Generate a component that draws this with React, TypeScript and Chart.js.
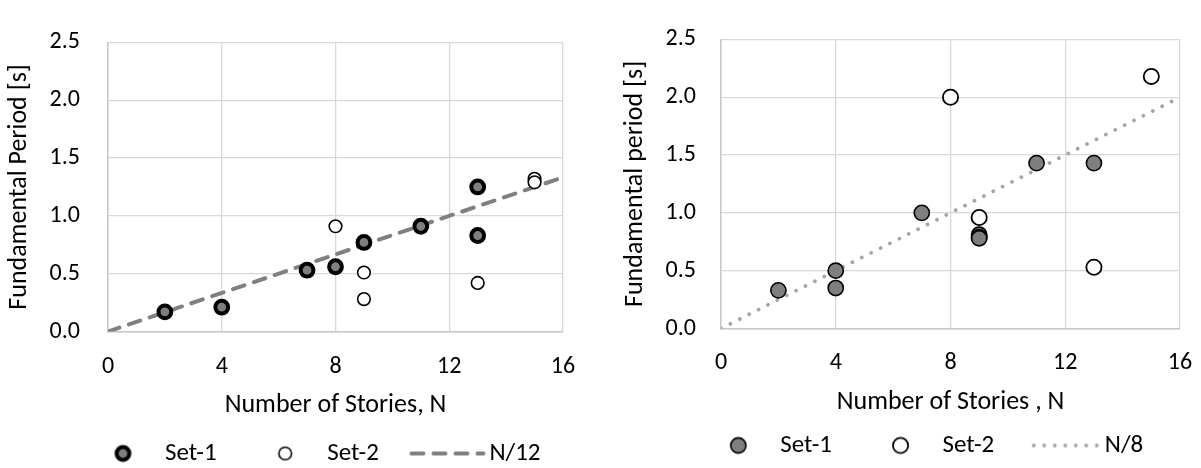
import React, { useEffect, useRef } from 'react';
import { Chart, registerables } from 'chart.js';

Chart.register(...registerables);

// ---------- data ----------
const xTickValues = [0, 4, 8, 12, 16];
const yTickValues = [0, 0.5, 1.0, 1.5, 2.0, 2.5];

// Left chart
const leftSet1N = [2, 4, 7, 8, 9, 11, 13, 13];
const leftSet1T = [0.17, 0.21, 0.53, 0.56, 0.77, 0.91, 1.25, 0.83];
const leftSet2N = [8, 9, 9, 13, 15, 15];
const leftSet2T = [0.91, 0.51, 0.28, 0.42, 1.32, 1.29];
const leftLineN = [0, 16];
const leftLineT = [0, 1.333];

// Right chart
const rightSet1N = [2, 4, 4, 7, 9, 11, 13];
const rightSet1T = [0.33, 0.5, 0.35, 1.0, 0.78, 1.43, 1.43];
const rightSet2N = [8, 9, 9, 9, 13, 15];
const rightSet2T = [2.0, 0.96, 0.81, 0.79, 0.53, 2.18];
const rightLineN = [0, 16];
const rightLineT = [0, 2.0];

const legendLabels = {
  left: ['Set-1', 'Set-2', 'N/12'],
  right: ['Set-1', 'Set-2', 'N/8'],
};

// ---------- styling ----------
const FONT = 'Calibri, Carlito, Lato, sans-serif';
const TICK_SIZE = 24;
const TITLE_SIZE = 26;
const LEGEND_SIZE = 25;
const GRID = '#d9d9d9';

type MarkerStyle = { r: number; bw: number; fill: string; stroke: string };
type LineStyle = { color: string; width: number; dash: number[]; cap: CanvasLineCap };

interface Spec {
  set1N: number[]; set1T: number[];
  set2N: number[]; set2T: number[];
  lineN: number[]; lineT: number[];
  labels: string[];
  yTitle: string; xTitle: string;
  left: number; width: number; height: number;
  padTop: number; yAxisWidth: number; rightWidth: number; xAxisHeight: number;
  yTickPad: number; yTitlePad: number; xTickPad: number; xTitlePadBottom: number;
  m1: MarkerStyle; m2: MarkerStyle; line: LineStyle;
  legendLineLen: number; legendLineGap: number;
}

const BOX_W = 88;
const K = 70;

function circleImage(m: MarkerStyle): HTMLCanvasElement {
  const c = document.createElement('canvas');
  c.width = 2 * K; c.height = 30;
  const ctx = c.getContext('2d')!;
  const cx = K + (BOX_W / 2 + LEGEND_SIZE / 2 - 42);
  ctx.beginPath();
  ctx.arc(cx, 15, m.r, 0, Math.PI * 2);
  ctx.fillStyle = m.fill;
  ctx.fill();
  ctx.lineWidth = m.bw;
  ctx.strokeStyle = m.stroke;
  ctx.stroke();
  return c;
}

function lineImage(l: LineStyle, len: number, gap: number): HTMLCanvasElement {
  const c = document.createElement('canvas');
  c.width = 2 * K; c.height = 30;
  const ctx = c.getContext('2d')!;
  const end = K + (BOX_W / 2 + LEGEND_SIZE / 2 - gap);
  ctx.beginPath();
  ctx.setLineDash(l.dash);
  ctx.lineCap = l.cap;
  ctx.lineWidth = l.width;
  ctx.strokeStyle = l.color;
  ctx.moveTo(end - len, 15);
  ctx.lineTo(end, 15);
  ctx.stroke();
  return c;
}

function makeConfig(s: Spec): any {
  const pts = (xs: number[], ys: number[]) => xs.map((x, i) => ({ x, y: ys[i] }));
  const imgs = [circleImage(s.m1), circleImage(s.m2), lineImage(s.line, s.legendLineLen, s.legendLineGap)];
  return {
    type: 'scatter',
    data: {
      datasets: [
        {
          label: s.labels[0], data: pts(s.set1N, s.set1T), order: 0,
          pointRadius: s.m1.r, pointBorderWidth: s.m1.bw,
          pointBackgroundColor: s.m1.fill, pointBorderColor: s.m1.stroke,
          backgroundColor: s.m1.fill, borderColor: s.m1.stroke,
        },
        {
          label: s.labels[1], data: pts(s.set2N, s.set2T), order: 1,
          pointRadius: s.m2.r, pointBorderWidth: s.m2.bw,
          pointBackgroundColor: s.m2.fill, pointBorderColor: s.m2.stroke,
          backgroundColor: s.m2.fill, borderColor: s.m2.stroke,
        },
        {
          label: s.labels[2], data: pts(s.lineN, s.lineT), order: 2,
          showLine: true, pointRadius: 0,
          borderColor: s.line.color, borderWidth: s.line.width,
          borderDash: s.line.dash, borderCapStyle: s.line.cap,
          backgroundColor: s.line.color,
        },
      ],
    },
    options: {
      responsive: false,
      animation: false,
      devicePixelRatio: 1,
      events: [],
      layout: { padding: { top: s.padTop, left: 0, right: 0, bottom: 0 } },
      plugins: {
        tooltip: { enabled: false },
        title: { display: false },
        legend: {
          display: true,
          position: 'bottom',
          align: 'center',
          labels: {
            usePointStyle: true,
            pointStyleWidth: BOX_W,
            padding: 10,
            color: '#000',
            font: { family: FONT, size: LEGEND_SIZE },
            generateLabels: () =>
              s.labels.map((t, i) => ({
                text: t,
                pointStyle: imgs[i],
                fillStyle: 'rgba(0,0,0,0)',
                strokeStyle: 'rgba(0,0,0,0)',
                lineWidth: 1,
                hidden: false,
                datasetIndex: i,
                fontColor: '#000',
              })),
          },
        },
      },
      scales: {
        x: {
          type: 'linear', position: 'bottom',
          min: xTickValues[0], max: xTickValues[xTickValues.length - 1],
          afterBuildTicks: (axis: any) => { axis.ticks = xTickValues.map((v) => ({ value: v })); },
          ticks: {
            padding: s.xTickPad, color: '#000',
            font: { family: FONT, size: TICK_SIZE },
            maxRotation: 0,
            callback: (v: any) => String(v),
          },
          grid: { color: GRID, lineWidth: 1.3, drawTicks: false },
          border: { display: true, color: '#c8c8c8', width: 1.5 },
          title: {
            display: true, text: s.xTitle, color: '#000',
            font: { family: FONT, size: TITLE_SIZE },
            padding: { top: 0, bottom: s.xTitlePadBottom },
          },
          afterFit: (axis: any) => { axis.height = s.xAxisHeight; },
        },
        y: {
          type: 'linear', position: 'left',
          min: yTickValues[0], max: yTickValues[yTickValues.length - 1],
          afterBuildTicks: (axis: any) => { axis.ticks = yTickValues.map((v) => ({ value: v })); },
          ticks: {
            padding: s.yTickPad, color: '#000',
            font: { family: FONT, size: TICK_SIZE },
            callback: (v: any) => Number(v).toFixed(1),
          },
          grid: { color: GRID, lineWidth: 1.3, drawTicks: false },
          border: { display: true, color: '#c8c8c8', width: 1.5 },
          title: {
            display: true, text: s.yTitle, color: '#000',
            font: { family: FONT, size: TITLE_SIZE },
            padding: { top: s.yTitlePad, bottom: 0 },
          },
          afterFit: (axis: any) => { axis.width = s.yAxisWidth; },
        },
        yPad: {
          type: 'linear', position: 'right', display: true,
          grid: { display: false }, ticks: { display: false }, border: { display: false },
          afterFit: (axis: any) => { axis.width = s.rightWidth; },
        },
      },
    },
  };
}

const leftSpec: Spec = {
  set1N: leftSet1N, set1T: leftSet1T, set2N: leftSet2N, set2T: leftSet2T,
  lineN: leftLineN, lineT: leftLineT, labels: legendLabels.left,
  yTitle: 'Fundamental Period [s]', xTitle: 'Number of Stories, N',
  left: 0, width: 605, height: 476,
  padTop: 21, yAxisWidth: 108, rightWidth: 42, xAxisHeight: 99.5,
  yTickPad: 28, yTitlePad: 4, xTickPad: 21.5, xTitlePadBottom: 10,
  m1: { r: 6.4, bw: 4, fill: '#7f7f7f', stroke: '#000' },
  m2: { r: 6.3, bw: 1.6, fill: '#fff', stroke: '#000' },
  line: { color: '#808080', width: 4, dash: [12, 10], cap: 'round' },
  legendLineLen: 72, legendLineGap: 6,
};

const rightSpec: Spec = {
  set1N: rightSet1N, set1T: rightSet1T, set2N: rightSet2N, set2T: rightSet2T,
  lineN: rightLineN, lineT: rightLineT, labels: legendLabels.right,
  yTitle: 'Fundamental period [s]', xTitle: 'Number of Stories , N',
  left: 600, width: 623, height: 468,
  padTop: 17, yAxisWidth: 121, rightWidth: 43, xAxisHeight: 94.5,
  yTickPad: 25, yTitlePad: 20, xTickPad: 20, xTitlePadBottom: 5,
  m1: { r: 7.6, bw: 1.6, fill: '#7f7f7f', stroke: '#000' },
  m2: { r: 7.6, bw: 1.8, fill: '#fff', stroke: '#000' },
  line: { color: '#a6a6a6', width: 3.8, dash: [0.01, 10.5], cap: 'round' },
  legendLineLen: 64, legendLineGap: 7,
};

function ChartCanvas({ spec }: { spec: Spec }) {
  const ref = useRef<HTMLCanvasElement | null>(null);
  useEffect(() => {
    if (!ref.current) return;
    const chart = new Chart(ref.current, makeConfig(spec));
    return () => chart.destroy();
  }, [spec]);
  return (
    <canvas
      ref={ref}
      width={spec.width}
      height={spec.height}
      style={{ position: 'absolute', left: spec.left, top: 0, width: spec.width, height: spec.height }}
    />
  );
}

export default function App() {
  return (
    <div
      style={{
        position: 'absolute', left: 0, top: 0, width: 1201, height: 468,
        overflow: 'hidden', background: '#fff',
      }}
    >
      <ChartCanvas spec={leftSpec} />
      <ChartCanvas spec={rightSpec} />
    </div>
  );
}
